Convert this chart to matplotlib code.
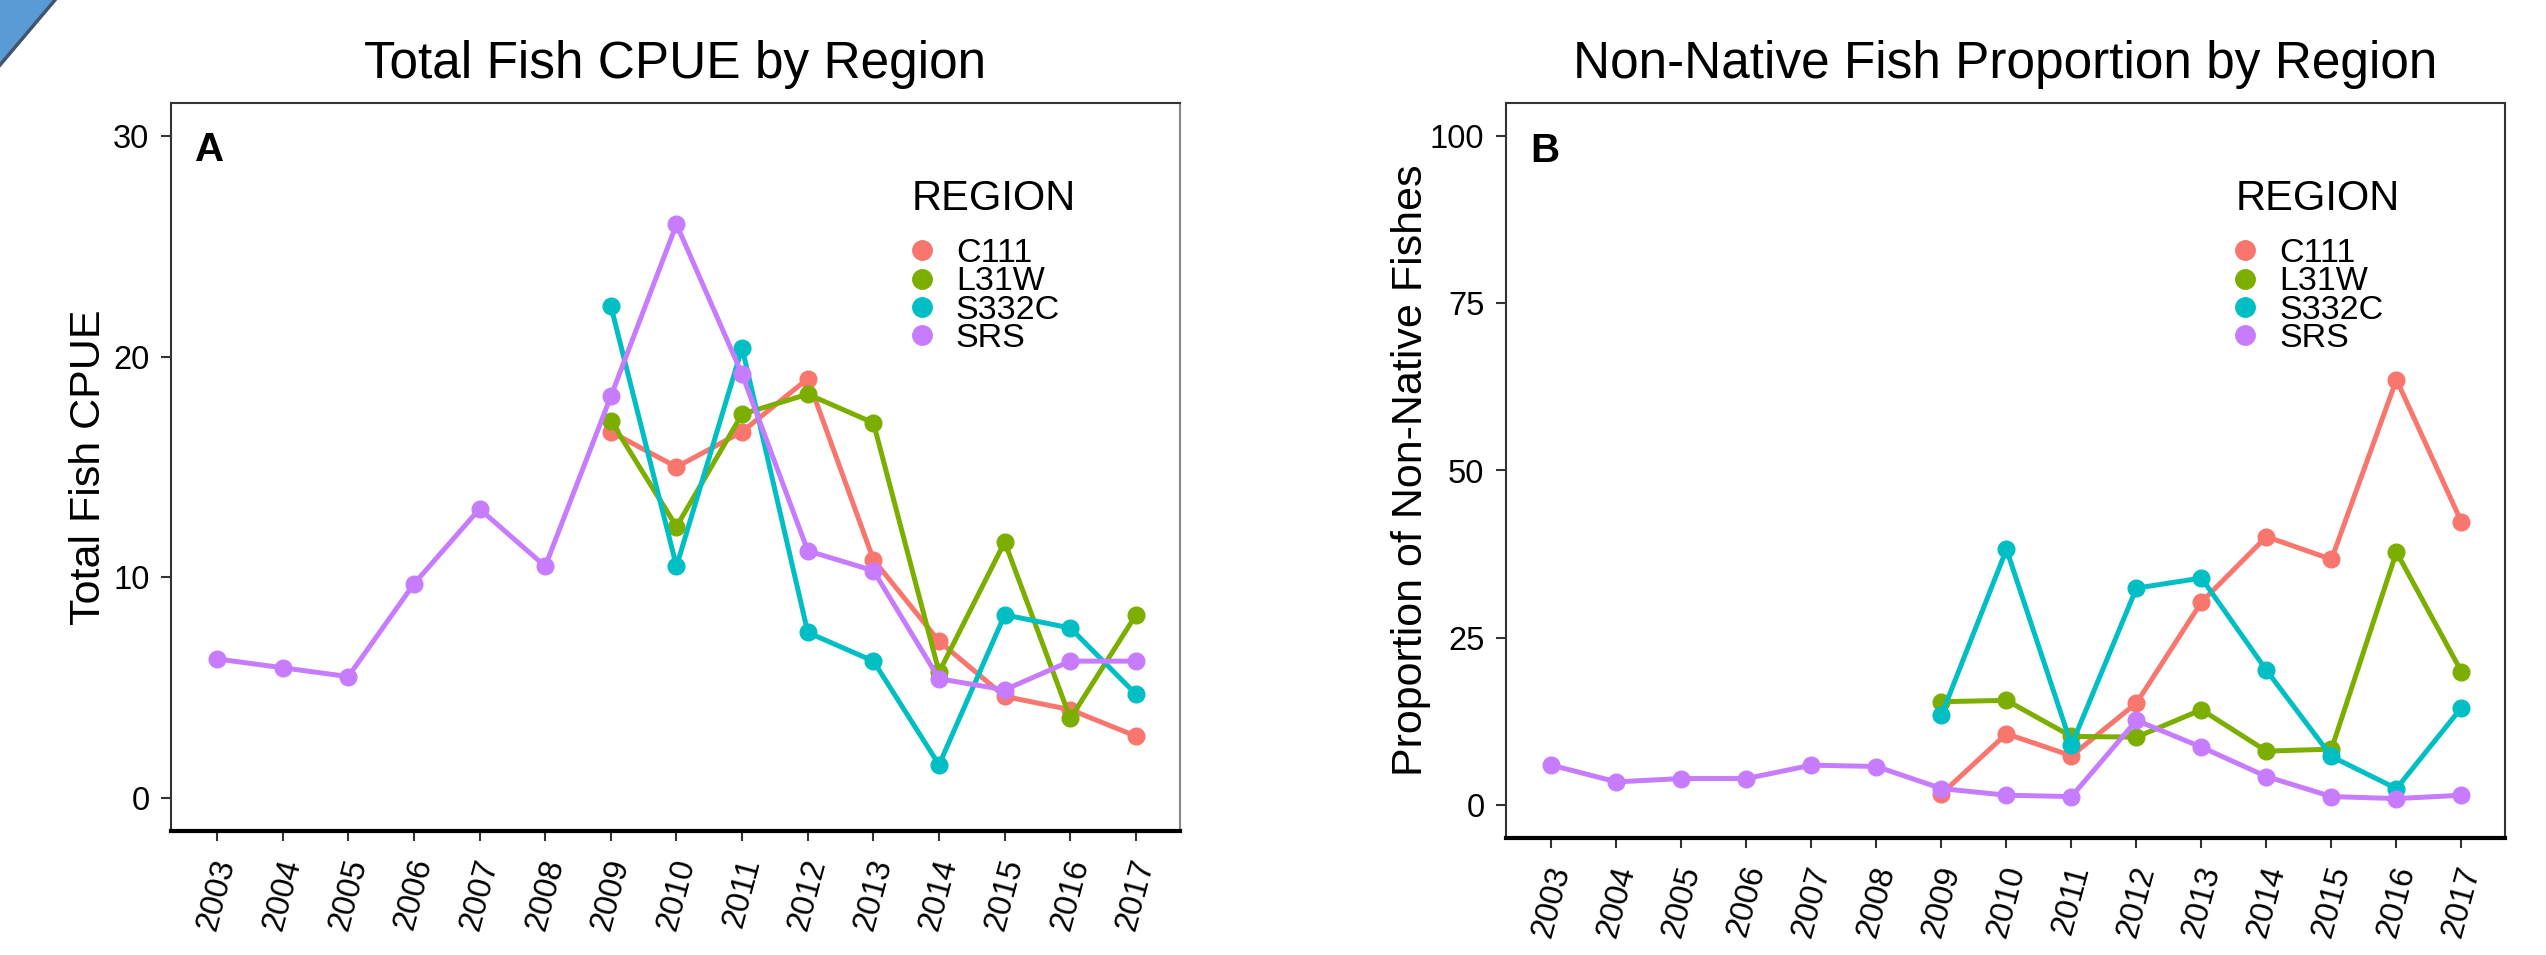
import numpy as np
import matplotlib
matplotlib.use("Agg")
import matplotlib.pyplot as plt
from matplotlib.lines import Line2D
from matplotlib.patches import Polygon

plt.rcParams['font.family'] = ['Liberation Sans', 'DejaVu Sans']

years = ['2003', '2004', '2005', '2006', '2007', '2008', '2009', '2010',
         '2011', '2012', '2013', '2014', '2015', '2016', '2017']
regions = ['C111', 'L31W', 'S332C', 'SRS']
colors = ['#F8766D', '#7CAE00', '#00BFC4', '#C77CFF']
nan = np.nan

# total fish CPUE (panel A)
cpue_c111 = [nan, nan, nan, nan, nan, nan, 16.6, 15.0, 16.6, 19.0, 10.8, 7.1, 4.6, 4.0, 2.8]
cpue_l31w = [nan, nan, nan, nan, nan, nan, 17.1, 12.3, 17.4, 18.3, 17.0, 5.7, 11.6, 3.6, 8.3]
cpue_s332c = [nan, nan, nan, nan, nan, nan, 22.3, 10.5, 20.4, 7.5, 6.2, 1.5, 8.3, 7.7, 4.7]
cpue_srs = [6.3, 5.9, 5.5, 9.7, 13.1, 10.5, 18.2, 26.0, 19.2, 11.2, 10.3, 5.4, 4.9, 6.2, 6.2]

# non-native proportion (panel B)
prop_c111 = [nan, nan, nan, nan, nan, nan, 1.6, 10.6, 7.3, 15.2, 30.3, 40.1, 36.7, 63.6, 42.3]
prop_l31w = [nan, nan, nan, nan, nan, nan, 15.4, 15.6, 10.2, 10.1, 14.2, 8.0, 8.3, 37.8, 19.9]
prop_s332c = [nan, nan, nan, nan, nan, nan, 13.4, 38.2, 8.9, 32.4, 33.9, 20.1, 7.2, 2.4, 14.5]
prop_srs = [5.9, 3.4, 3.9, 3.9, 5.9, 5.7, 2.4, 1.4, 1.2, 12.6, 8.6, 4.2, 1.2, 0.9, 1.4]

W, H = 2546, 955
fig = plt.figure(figsize=(W / 100, H / 100), dpi=100)


def px_axes(left, top, right, bottom):
    return fig.add_axes([left / W, 1 - bottom / H, (right - left) / W, (bottom - top) / H])


def draw_panel(ax, series, title, ylabel, letter, ylim, yticks, ylab_x, leg_x, top_px, bot_px):
    x = np.arange(len(years))
    for vals, c in zip(series, colors):
        ax.plot(x, vals, color=c, lw=3.6, marker='o', ms=12, solid_capstyle='round')
    ax.set_xlim(-0.7, len(years) - 1 + 0.67)
    rng = ylim[1] - ylim[0]
    ax.set_ylim(ylim[0] - 0.05 * rng, ylim[1] + 0.05 * rng)
    ax.set_xticks(x)
    ax.set_xticklabels(years, rotation=75, ha='center', va='top')
    ax.set_yticks(yticks)
    ax.tick_params(axis='both', labelsize=23.5, length=7.5, width=1.5,
                   color='#333333', labelcolor='black')
    ax.tick_params(axis='x', pad=10)
    ax.tick_params(axis='y', pad=8)
    ax.set_title(title, fontsize=37, pad=18)
    ax.set_ylabel(ylabel, fontsize=31)
    ax.yaxis.set_label_coords(ylab_x, 0.5)
    for s in ['top', 'left', 'right']:
        ax.spines[s].set_color('#333333')
        ax.spines[s].set_linewidth(1.5)
    ax.spines['bottom'].set_color('black')
    ax.spines['bottom'].set_linewidth(3)
    ax.text(0.024, 0.92, letter, transform=ax.transAxes, fontsize=29,
            fontweight='bold', va='baseline', ha='left')

    # legend: title as its own text, keys below it
    hgt = bot_px - top_px
    ax.text(leg_x, (bot_px - 210) / hgt, 'REGION', transform=ax.transAxes,
            fontsize=30, va='baseline', ha='left')
    handles = [Line2D([], [], ls='none', marker='o', ms=14, color=c) for c in colors]
    ax.legend(handles, regions, loc='upper left',
              bbox_to_anchor=(leg_x, (bot_px - 238) / hgt), frameon=False,
              fontsize=24.5, handlelength=0.6, handletextpad=0.7,
              labelspacing=-0.075, borderpad=0, borderaxespad=0)


axA = px_axes(171, 103, 1180, 831)
draw_panel(axA, [cpue_c111, cpue_l31w, cpue_s332c, cpue_srs],
           'Total Fish CPUE by Region', 'Total Fish CPUE', 'A',
           (0, 30), [0, 10, 20, 30], -0.061, 0.734, 103, 831)
axA.spines['right'].set_color('#888888')

axB = px_axes(1506, 103, 2505, 838)
draw_panel(axB, [prop_c111, prop_l31w, prop_s332c, prop_srs],
           'Non-Native Fish Proportion by Region', 'Proportion of Non-Native Fishes', 'B',
           (0, 100), [0, 25, 50, 75, 100], -0.075, 0.730, 103, 838)

# blue corner shape from the slide
tri = Polygon([(0, 1), (55 / W, 1), (0, 1 - 65 / H)], closed=True,
              transform=fig.transFigure, facecolor='#5B9BD5', edgecolor='none')
fig.patches.append(tri)
fig.lines.append(Line2D([55 / W, 0], [1, 1 - 65 / H], transform=fig.transFigure,
                        color='#44546A', lw=2.5))

fig.savefig('out.png', dpi=100)
